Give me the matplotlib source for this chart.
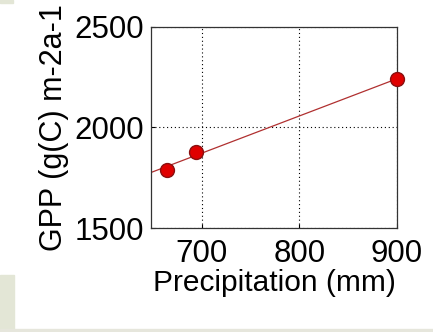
import numpy as np
import matplotlib
matplotlib.use("Agg")
import matplotlib.pyplot as plt
from matplotlib.patches import Rectangle

# values
precip = [664, 694, 900]        # mm
gpp = [1790, 1880, 2240]        # g(C) m-2 a-1
xticks = [700, 800, 900]
yticks = [1500, 2000, 2500]

plt.rcParams['font.family'] = ['Liberation Sans', 'DejaVu Sans']

fig = plt.figure(figsize=(4.33, 3.32), dpi=100)
fig.patch.set_facecolor('white')

# faded background picture showing at the edges
bg = '#e3e6d6'
fig.patches.append(Rectangle((0, 0.006), 0.032, 0.165, transform=fig.transFigure, color=bg, zorder=0))
fig.patches.append(Rectangle((0, 0), 1, 0.008, transform=fig.transFigure, color='#e6e6dc', zorder=0))
fig.patches.append(Rectangle((0, 0.99), 0.03, 0.01, transform=fig.transFigure, color=bg, zorder=0))

ax = fig.add_axes([0.349, 0.313, 0.568, 0.606])

# linear fit through the points
slope, icpt = np.polyfit(precip, gpp, 1)
xl = (648, 900)
ax.plot(xl, [slope * v + icpt for v in xl], color='#b03030', linewidth=0.9, zorder=2)
ax.plot(precip, gpp, 'o', markersize=10, markerfacecolor='#e00000',
        markeredgecolor='#8a1010', markeredgewidth=1.0, zorder=3, clip_on=False)

ax.set_xlim(648, 900)
ax.set_ylim(1500, 2500)
ax.set_xticks(xticks)
ax.set_yticks(yticks)
ax.grid(True, color='black', linestyle=(0, (1, 2.5)), linewidth=0.8)
ax.tick_params(direction='in', length=3, labelsize=22.5)
ax.tick_params(axis='x', pad=8)
ax.tick_params(axis='y', pad=5)
for s in ax.spines.values():
    s.set_color('#333333')
    s.set_linewidth(0.9)

ax.set_xlabel('Precipitation (mm)', fontsize=21.5, labelpad=0)
ax.set_ylabel('GPP (g(C) m-2a-1', fontsize=22, labelpad=4)

fig.savefig('out.png', dpi=100)
